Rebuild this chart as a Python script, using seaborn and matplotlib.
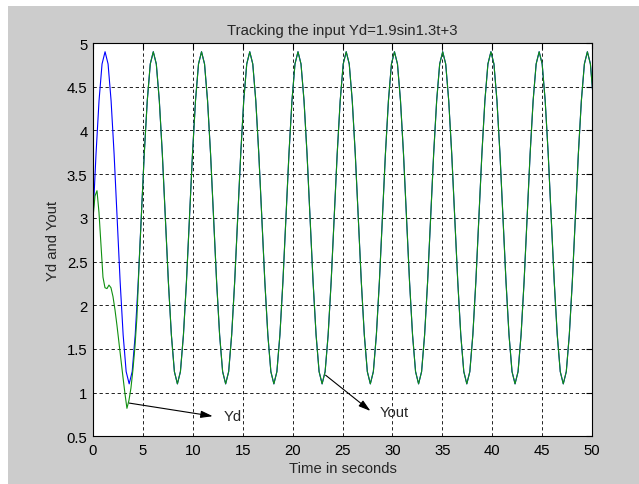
import numpy as np
import pandas as pd
import seaborn as sns
import matplotlib.pyplot as plt
from matplotlib.patches import Rectangle

period = 4.833
yd_vals = [
    3.00, 3.73, 4.34, 4.76, 4.90, 4.76, 4.34, 3.73, 3.00, 2.27, 1.66, 1.24, 1.10, 1.24, 1.66, 2.27,
    3.00, 3.73, 4.34, 4.76, 4.90, 4.76, 4.34, 3.73, 3.00, 2.27, 1.66, 1.24, 1.10, 1.24, 1.66, 2.27,
    3.00, 3.73, 4.34, 4.76, 4.90, 4.76, 4.34, 3.73, 3.00, 2.27, 1.66, 1.24, 1.10, 1.24, 1.66, 2.27,
    3.00, 3.73, 4.34, 4.76, 4.90, 4.76, 4.34, 3.73, 3.00, 2.27, 1.66, 1.24, 1.10, 1.24, 1.66, 2.27,
    3.00, 3.73, 4.34, 4.76, 4.90, 4.76, 4.34, 3.73, 3.00, 2.27, 1.66, 1.24, 1.10, 1.24, 1.66, 2.27,
    3.00, 3.73, 4.34, 4.76, 4.90, 4.76, 4.34, 3.73, 3.00, 2.27, 1.66, 1.24, 1.10, 1.24, 1.66, 2.27,
    3.00, 3.73, 4.34, 4.76, 4.90, 4.76, 4.34, 3.73, 3.00, 2.27, 1.66, 1.24, 1.10, 1.24, 1.66, 2.27,
    3.00, 3.73, 4.34, 4.76, 4.90, 4.76, 4.34, 3.73, 3.00, 2.27, 1.66, 1.24, 1.10, 1.24, 1.66, 2.27,
    3.00, 3.73, 4.34, 4.76, 4.90, 4.76, 4.34, 3.73, 3.00, 2.27, 1.66, 1.24, 1.10, 1.24, 1.66, 2.27,
    3.00, 3.73, 4.34, 4.76, 4.90, 4.76, 4.34, 3.73, 3.00, 2.27, 1.66, 1.24, 1.10, 1.24, 1.66, 2.27,
    3.00, 3.73, 4.34, 4.76, 4.90, 4.76, 4.34,
]
t_yd = np.arange(len(yd_vals)) * period / 16

# output Yout during the transient, before it locks onto Yd
t_start = [0.0, 0.2, 0.4, 0.6, 0.8, 1.0, 1.2, 1.4, 1.6, 1.8, 2.0, 2.2,
           2.4, 2.6, 2.8, 3.0, 3.2, 3.4, 3.6, 3.8, 4.0, 4.2, 4.4, 4.6]
yout_start = [3.00, 3.25, 3.31, 3.06, 2.68, 2.32, 2.20, 2.19, 2.23, 2.20, 2.10, 1.95,
              1.77, 1.57, 1.37, 1.18, 0.99, 0.82, 0.91, 1.05, 1.26, 1.52, 1.86, 2.42]
join_idx = 16  # after this sample Yout sits on top of Yd

t_yout = np.concatenate([t_start, t_yd[join_idx:]])
yout_vals = np.concatenate([yout_start, yd_vals[join_idx:]])

x_ticks = [0, 5, 10, 15, 20, 25, 30, 35, 40, 45, 50]
y_ticks = [0.5, 1, 1.5, 2, 2.5, 3, 3.5, 4, 4.5, 5]
y_tick_labels = ['0.5', '1', '1.5', '2', '2.5', '3', '3.5', '4', '4.5', '5']

df_yd = pd.DataFrame({'t': t_yd, 'y': yd_vals})
df_yout = pd.DataFrame({'t': t_yout, 'y': yout_vals})

sns.set_style("white")
plt.rcParams['font.family'] = ['Liberation Sans', 'DejaVu Sans']
plt.rcParams['font.size'] = 10.7

fig = plt.figure(figsize=(6.39, 4.85), dpi=100, facecolor='white')
# grey figure panel with a thin white strip on top and left
fig.patches.append(Rectangle((8 / 639, 0), 1, 1 - 7 / 485, transform=fig.transFigure,
                             facecolor='#cccccc', edgecolor='none', zorder=-10))
ax = fig.add_axes([93 / 639, 1 - 437.3 / 485, 499 / 639, 393.3 / 485])
ax.set_facecolor('white')

sns.lineplot(data=df_yd, x='t', y='y', color='blue', lw=0.8, estimator=None, ax=ax)
sns.lineplot(data=df_yout, x='t', y='y', color='#109010', lw=0.8, estimator=None, ax=ax)

ax.set_xlim(0, 50)
ax.set_ylim(0.5, 5)
ax.set_xticks(x_ticks, [str(v) for v in x_ticks])
ax.set_yticks(y_ticks, y_tick_labels)
ax.tick_params(direction='in', length=4, width=0.8, top=True, right=True,
               colors='black', labelsize=10.7, pad=4)
ax.tick_params(axis='x', pad=5)
ax.grid(True, color='#222222', linestyle=(0, (3.4, 2.8)), linewidth=0.7)
for s in ax.spines.values():
    s.set_color('black')
    s.set_linewidth(0.8)

ax.set_title('Tracking the input Yd=1.9sin1.3t+3', fontsize=10.7, pad=6.5)
ax.set_xlabel('Time in seconds', fontsize=10.7, labelpad=3)
ax.set_ylabel('Yd and Yout', fontsize=10.7, labelpad=5)

arrow = dict(arrowstyle='-|>,head_length=0.6,head_width=0.18', color='black',
             lw=0.8, shrinkA=0, shrinkB=0, mutation_scale=12)
ax.annotate('', xy=(12.0, 0.73), xytext=(3.63, 0.88), arrowprops=arrow)
ax.text(13.1, 0.727, 'Yd', ha='left', va='center', fontsize=10.7)
ax.annotate('', xy=(27.8, 0.79), xytext=(23.3, 1.20), arrowprops=arrow)
ax.text(28.7, 0.78, 'Yout', ha='left', va='center', fontsize=10.7)

fig.savefig('out.png', dpi=100, facecolor=fig.get_facecolor())
